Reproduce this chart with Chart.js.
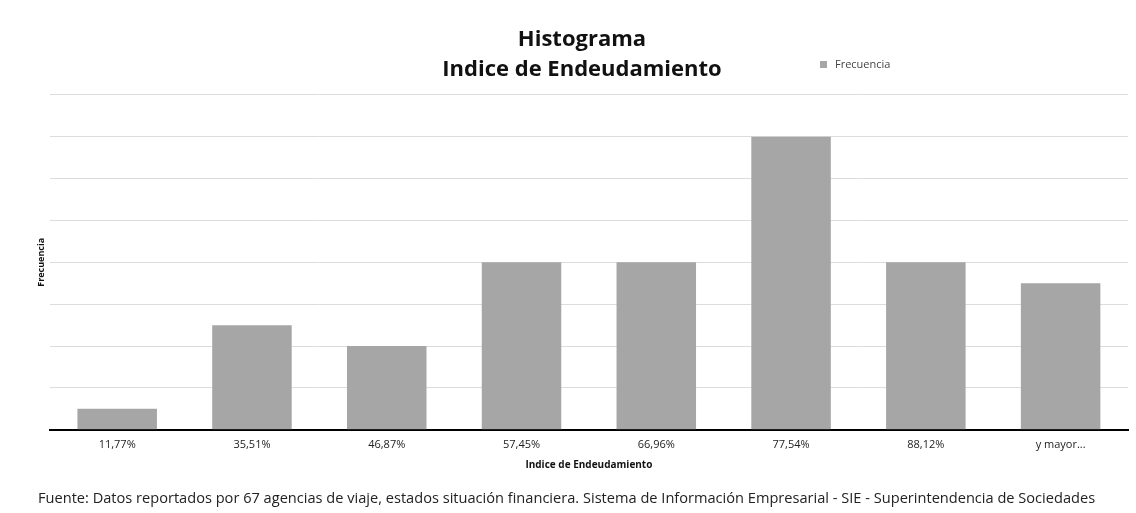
<!DOCTYPE html>
<html>
<head>
<meta charset="utf-8">
<script src="https://cdn.jsdelivr.net/npm/chart.js@4"></script>
<style>
    body { margin: 0; background: #fff; }
    #wrap { position: relative; width: 1136px; height: 513px; }
    #legend { position: absolute; left: 820px; top: 56px; font: 11px 'Open Sans', sans-serif; color: #444; }
    #legend span { display: inline-block; width: 7px; height: 7px; background: #a6a6a6; margin-right: 8px; }
    #footer { position: absolute; left: 38px; top: 487px; font: 14.6px 'Open Sans', sans-serif; color: #222; white-space: nowrap; }
</style>
</head>
<body>
<div id="wrap">
    <canvas id="chartCanvas" width="1136" height="513"></canvas>
    <div id="legend"><span></span>Frecuencia</div>
    <div id="footer">Fuente: Datos reportados por 67 agencias de viaje, estados situación financiera. Sistema de Información Empresarial - SIE - Superintendencia de Sociedades</div>
</div>
<script>
// DATA
const binLabels = ['11,77%', '35,51%', '46,87%', '57,45%', '66,96%', '77,54%', '88,12%', 'y mayor...'];
const frequency = [1, 5, 4, 8, 8, 14, 8, 7];
const titleLines = ['Histograma', 'Indice de Endeudamiento'];

const ctx = document.getElementById('chartCanvas').getContext('2d');

new Chart(ctx, {
    type: 'bar',
    data: {
        labels: binLabels,
        datasets: [{
            label: 'Frecuencia',
            data: frequency,
            backgroundColor: '#a6a6a6',
            barPercentage: 0.59,
            categoryPercentage: 1
        }]
    },
    options: {
        responsive: false,
        animation: false,
        layout: { padding: { left: 36, right: 8, top: 14, bottom: 38 } },
        plugins: {
            legend: { display: false },
            tooltip: { enabled: false },
            title: {
                display: true,
                text: titleLines,
                color: '#111',
                font: { family: 'Open Sans', size: 22, weight: 'bold', lineHeight: 1.36 },
                padding: { top: 11, bottom: 10 }
            }
        },
        scales: {
            y: {
                min: 0,
                max: 16,
                ticks: { display: false, stepSize: 2 },
                border: { display: false },
                grid: { color: '#dcdcdc', drawTicks: false },
                title: {
                    display: true,
                    text: 'Frecuencia',
                    color: '#111',
                    font: { family: 'Open Sans', size: 9, weight: 'bold' },
                    padding: { top: 0, bottom: 3 }
                }
            },
            x: {
                border: { display: true, color: '#000', width: 2 },
                grid: { display: false },
                ticks: { color: '#222', font: { family: 'Open Sans', size: 11 }, padding: 0 },
                title: {
                    display: true,
                    text: 'Indice de Endeudamiento',
                    color: '#111',
                    font: { family: 'Open Sans', size: 10, weight: 'bold' },
                    padding: { top: 8 }
                }
            }
        }
    }
});
</script>
</body>
</html>
